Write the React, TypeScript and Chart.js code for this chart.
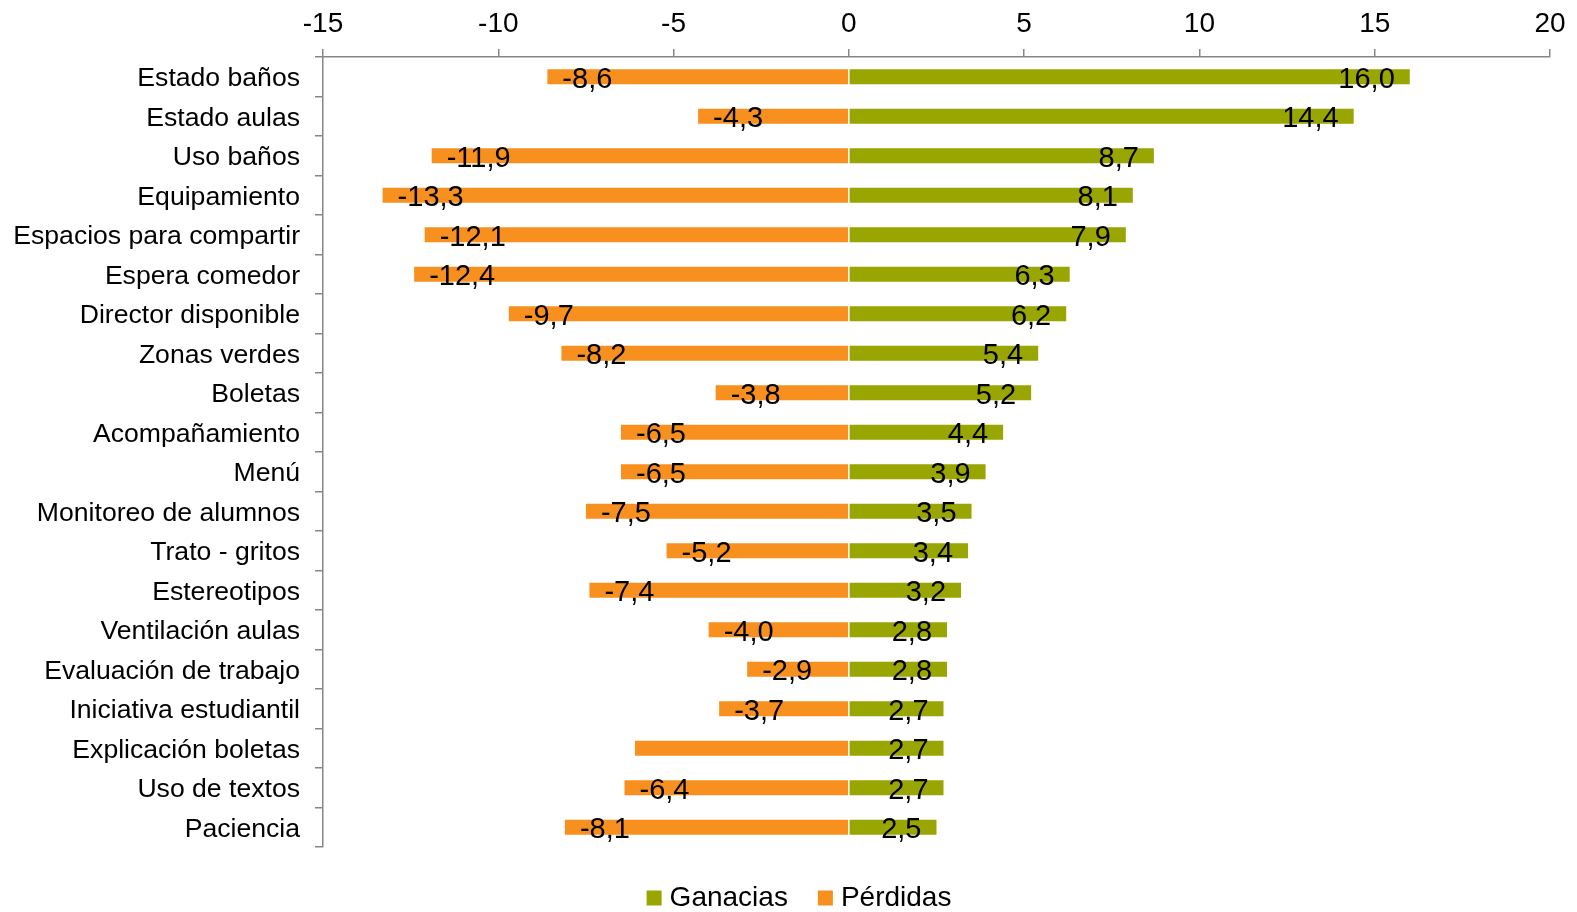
import { useEffect, useRef } from 'react';
import { Chart, registerables } from 'chart.js';

Chart.register(...registerables);

// Survey items, top to bottom
const categories = [
  'Estado baños',
  'Estado aulas',
  'Uso baños',
  'Equipamiento',
  'Espacios para compartir',
  'Espera comedor',
  'Director disponible',
  'Zonas verdes',
  'Boletas',
  'Acompañamiento',
  'Menú',
  'Monitoreo de alumnos',
  'Trato - gritos',
  'Estereotipos',
  'Ventilación aulas',
  'Evaluación de trabajo',
  'Iniciativa estudiantil',
  'Explicación boletas',
  'Uso de textos',
  'Paciencia',
];

const gains = [16.0, 14.4, 8.7, 8.1, 7.9, 6.3, 6.2, 5.4, 5.2, 4.4, 3.9, 3.5, 3.4, 3.2, 2.8, 2.8, 2.7, 2.7, 2.7, 2.5];
const losses = [-8.6, -4.3, -11.9, -13.3, -12.1, -12.4, -9.7, -8.2, -3.8, -6.5, -6.5, -7.5, -5.2, -7.4, -4.0, -2.9, -3.7, -6.1, -6.4, -8.1];
// The "Explicación boletas" loss carries no value label
const lossLabelShown = [true, true, true, true, true, true, true, true, true, true, true, true, true, true, true, true, true, false, true, true];

const xMin = -15;
const xMax = 20;
const xStep = 5;

const seriesNames = ['Ganacias', 'Pérdidas'];

const GREEN = '#99A500';
const ORANGE = '#F7901E';
const AXIS_GREY = '#878787';
const FONT = '"Liberation Sans", Arial, Helvetica, sans-serif';

const fmt = (v: number) => v.toFixed(1).replace('.', ',');

// Value labels drawn just inside the outer end of each bar
const valueLabels = {
  id: 'valueLabels',
  afterDatasetsDraw(chart: any) {
    const ctx = chart.ctx;
    ctx.save();
    ctx.font = `29px ${FONT}`;
    ctx.fillStyle = '#000000';
    ctx.textBaseline = 'middle';
    chart.data.datasets.forEach((ds: any, di: number) => {
      const meta = chart.getDatasetMeta(di);
      meta.data.forEach((bar: any, i: number) => {
        const v = ds.data[i] as number;
        if (di === 1 && !lossLabelShown[i]) return;
        const text = fmt(v);
        if (v >= 0) {
          ctx.textAlign = 'right';
          ctx.fillText(text, bar.x - 15, bar.y + 3);
        } else {
          ctx.textAlign = 'left';
          ctx.fillText(text, bar.x + 15, bar.y + 3);
        }
      });
    });
    ctx.restore();
  },
};

// Legend row under the plot
const bottomLegend = {
  id: 'bottomLegend',
  afterDraw(chart: any) {
    const ctx = chart.ctx;
    ctx.save();
    ctx.font = `28px ${FONT}`;
    ctx.textBaseline = 'middle';
    ctx.textAlign = 'left';
    const box = 15;
    const gap = 8;
    const spacing = 30;
    const items = chart.data.datasets.map((ds: any) => ({
      label: ds.label as string,
      color: ds.backgroundColor as string,
      w: ctx.measureText(ds.label).width,
    }));
    const total = items.reduce((s: number, it: any) => s + box + gap + it.w, 0) + spacing * (items.length - 1);
    let x = 799 - total / 2;
    const y = 898;
    items.forEach((it: any) => {
      ctx.fillStyle = it.color;
      ctx.fillRect(x, y - box / 2, box, box);
      x += box + gap;
      ctx.fillStyle = '#000000';
      ctx.fillText(it.label, x, y);
      x += it.w + spacing;
    });
    ctx.restore();
  },
};

export default function App() {
  const canvasRef = useRef<HTMLCanvasElement | null>(null);

  useEffect(() => {
    const canvas = canvasRef.current;
    if (!canvas) return;
    const chart = new Chart(canvas, {
      type: 'bar',
      data: {
        labels: categories,
        datasets: [
          {
            label: seriesNames[0],
            data: gains,
            backgroundColor: GREEN,
            borderWidth: 0,
            barPercentage: 0.38,
            categoryPercentage: 1,
          },
          {
            label: seriesNames[1],
            data: losses,
            backgroundColor: ORANGE,
            borderWidth: 0,
            barPercentage: 0.38,
            categoryPercentage: 1,
          },
        ],
      },
      options: {
        indexAxis: 'y',
        responsive: false,
        animation: false,
        layout: { padding: { left: 0, right: 27, top: 0, bottom: 65 } },
        plugins: {
          legend: { display: false },
          tooltip: { enabled: false },
        },
        scales: {
          x: {
            position: 'top',
            stacked: true,
            min: xMin,
            max: xMax,
            ticks: {
              stepSize: xStep,
              color: '#000000',
              font: { family: FONT, size: 28 },
              padding: 8,
              maxRotation: 0,
              callback: (v: any) => String(v),
            },
            grid: {
              drawOnChartArea: false,
              drawTicks: true,
              tickLength: 8,
              color: AXIS_GREY,
              lineWidth: 1.5,
            },
            border: { display: true, color: AXIS_GREY, width: 1.5 },
            afterFit: (scale: any) => {
              scale.height = 57;
            },
          },
          y: {
            stacked: true,
            ticks: {
              color: '#000000',
              font: { family: FONT, size: 26.6 },
              padding: 15,
              labelOffset: 2,
            },
            grid: {
              offset: true,
              drawOnChartArea: false,
              drawTicks: true,
              tickLength: 8,
              color: AXIS_GREY,
              lineWidth: 1.5,
            },
            border: { display: true, color: AXIS_GREY, width: 1.5 },
            afterFit: (scale: any) => {
              scale.width = 323;
            },
          },
        },
      },
      plugins: [valueLabels, bottomLegend],
    });
    return () => chart.destroy();
  }, []);

  return (
    <div style={{ position: 'absolute', left: 0, top: 0, width: 1577, height: 912, background: '#ffffff' }}>
      <canvas ref={canvasRef} width={1577} height={912} style={{ display: 'block' }} />
    </div>
  );
}
